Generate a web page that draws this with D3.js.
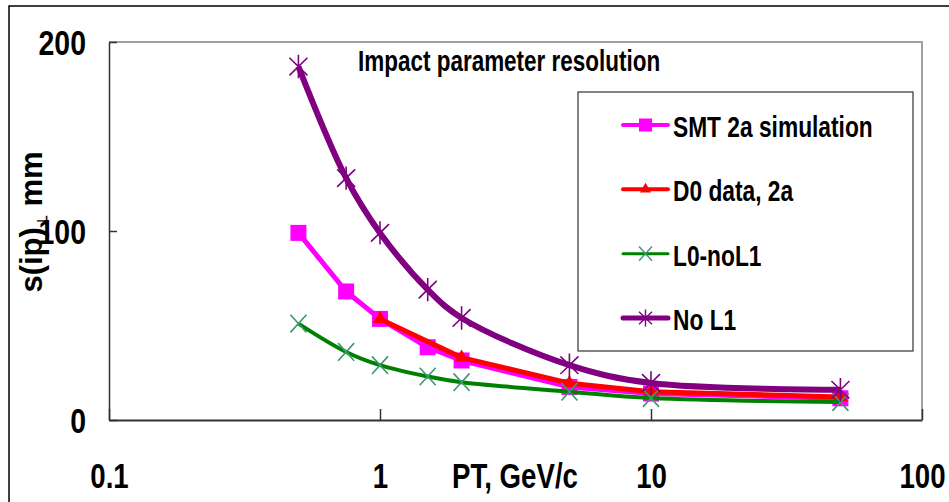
<!DOCTYPE html>
<html>
<head>
<meta charset="utf-8">
<script src="https://cdn.jsdelivr.net/npm/d3@7"></script>
<style>
    body { margin: 0; background: #fff; }
    text { font-family: "Liberation Sans", Arial, sans-serif; font-weight: bold; fill: #000; }
</style>
</head>
<body>
<div id="chart"></div>
<script>
const pt = [0.5, 0.75, 1, 1.5, 2, 5, 10, 50];
const ptD0 = [1, 2, 5, 10, 50];
const smtSim = [99, 68, 53.5, 38.5, 31.5, 17.5, 14, 11.5];
const d0Data = [53.5, 33, 19.5, 15, 12.2];
const l0NoL1 = [51, 36, 29, 23, 20, 15, 11.6, 9.5];
const noL1 = [187, 128, 99, 69, 54, 29, 19.6, 16];
const seriesNames = ["SMT 2a simulation", "D0 data, 2a", "L0-noL1", "No L1"];
const xTicks = [0.1, 1, 10, 100];
const yTicks = [0, 100, 200];

const width = 949,
    height = 502,
    margin = { top: 42, right: 27, bottom: 82, left: 109 };
const squeeze = 0.79; // text in the picture is narrow

// narrow a text node horizontally (scale about x = 0)
function narrow(sel, k) {
    k = k || squeeze;
    sel.each(function () {
        const t = d3.select(this);
        const x0 = +t.attr("x") || 0;
        t.attr("x", x0 / k).attr("transform", `scale(${k},1)`);
    });
}

const svg = d3
    .select("#chart")
    .append("svg")
    .attr("width", width)
    .attr("height", height);

const x = d3
    .scaleLog()
    .domain([0.1, 100])
    .range([margin.left, width - margin.right]);

const y = d3
    .scaleLinear()
    .domain([0, 200])
    .range([height - margin.bottom, margin.top]);

// outer frame
svg.append("rect")
    .attr("x", 9)
    .attr("y", 6)
    .attr("width", 980)
    .attr("height", 540)
    .attr("fill", "none")
    .attr("stroke", "#000")
    .attr("stroke-width", 1.5);

// plot area top / right border
svg.append("path")
    .attr("d", `M${x(0.1)},${y(200)}H${x(100)}V${y(0)}`)
    .attr("fill", "none")
    .attr("stroke", "#a0a0a0")
    .attr("stroke-width", 2);

// axes
const yAxis = svg
    .append("g")
    .attr("transform", `translate(${x(0.1)},0)`)
    .call(d3.axisLeft(y).tickValues(yTicks).tickSizeInner(-8).tickSizeOuter(0).tickPadding(23).tickFormat(d3.format("d")));
yAxis.select(".domain").attr("stroke", "#333").attr("stroke-width", 1.5);
yAxis.selectAll(".tick line").attr("stroke", "#333").attr("stroke-width", 1.5);
yAxis.selectAll("text")
    .attr("font-size", 36)
    .attr("font-family", null)
    .attr("dy", "0.36em")
    .call(narrow);

const xAxis = svg
    .append("g")
    .attr("transform", `translate(0,${y(0)})`)
    .call(d3.axisBottom(x).tickValues(xTicks).tickSizeInner(-11).tickSizeOuter(0).tickPadding(43).tickFormat(d3.format("~g")));
xAxis.select(".domain").attr("stroke", "#333").attr("stroke-width", 2);
xAxis.selectAll(".tick line").attr("stroke", "#333").attr("stroke-width", 1.5);
xAxis.selectAll("text")
    .attr("font-size", 35)
    .attr("font-family", null)
    .call(narrow);

svg.append("g")
    .attr("transform", "translate(452,488)")
    .append("text")
    .attr("font-size", 35)
    .text("PT, GeV/c")
    .call(narrow);

// y title
const yTitle = svg
    .append("text")
    .attr("transform", "translate(42,222) rotate(-90)")
    .attr("text-anchor", "middle")
    .attr("font-size", 31);
yTitle.append("tspan").text("s(ip)");
yTitle.append("tspan").attr("font-size", 14).attr("dy", 5).text("\u22a5");
yTitle.append("tspan").attr("dy", -5).text(" mm");

// chart title
svg.append("g")
    .attr("transform", "translate(358,71)")
    .append("text")
    .attr("font-size", 29)
    .text("Impact parameter resolution")
    .call(narrow, 0.775);

// marker shapes
function xMark(w, h) {
    return `M${-w / 2},${-h / 2}L${w / 2},${h / 2}M${-w / 2},${h / 2}L${w / 2},${-h / 2}`;
}
function starMark(w, h) {
    return xMark(w, h * 0.75) + `M0,${-h / 2}V${h / 2}`;
}

const series = [
    { name: seriesNames[0], xs: pt, ys: smtSim, color: "#ff00ff", lw: 5, curve: d3.curveLinear,
      mark: (s) => d3.symbol(d3.symbolSquare, s * s)(), size: 16, legSize: 13, fillMark: true },
    { name: seriesNames[1], xs: ptD0, ys: d0Data, color: "#ff0000", lw: 5, curve: d3.curveLinear,
      mark: (s) => d3.symbol(d3.symbolTriangle, s * s * 0.45)(), size: 14, legSize: 11, fillMark: true },
    { name: seriesNames[2], xs: pt, ys: l0NoL1, color: "#008000", lw: 4, curve: d3.curveCatmullRom,
      mark: (s) => xMark(s, s * 1.1), size: 16, legSize: 13, markColor: "#3a9a6e" },
    { name: seriesNames[3], xs: pt, ys: noL1, color: "#800080", lw: 6, curve: d3.curveCatmullRom,
      mark: (s) => starMark(s, s * 1.3), size: 18, legSize: 13, markColor: "#800080" }
];

series.forEach((s) => {
    const pts = s.xs.map((v, i) => [v, s.ys[i]]);
    const line = d3
        .line()
        .x((d) => x(d[0]))
        .y((d) => y(d[1]))
        .curve(s.curve);
    const g = svg.append("g");
    g.append("path")
        .attr("d", line(pts))
        .attr("fill", "none")
        .attr("stroke", s.color)
        .attr("stroke-width", s.lw)
        .attr("stroke-linejoin", "round");
    g.selectAll(".mk")
        .data(pts)
        .join("path")
        .attr("class", "mk")
        .attr("transform", (d) => `translate(${x(d[0])},${y(d[1])})`)
        .attr("d", s.mark(s.size))
        .attr("fill", s.fillMark ? s.color : "none")
        .attr("stroke", s.fillMark ? "none" : s.markColor)
        .attr("stroke-width", 1.6);
});

// legend
const legend = svg.append("g");
legend.append("rect")
    .attr("x", 578)
    .attr("y", 92)
    .attr("width", 335)
    .attr("height", 259)
    .attr("fill", "#fff")
    .attr("stroke", "#333")
    .attr("stroke-width", 1.2);

const legendY = d3.scalePoint().domain(seriesNames).range([125, 318]);

series.forEach((s) => {
    const ly = legendY(s.name);
    legend.append("line")
        .attr("x1", 623)
        .attr("x2", 668)
        .attr("y1", ly)
        .attr("y2", ly)
        .attr("stroke", s.color)
        .attr("stroke-width", Math.max(3, s.lw - 1))
        .attr("stroke-linecap", "round");
    legend.append("path")
        .attr("transform", `translate(645.5,${ly})`)
        .attr("d", s.mark(s.legSize))
        .attr("fill", s.fillMark ? s.color : "none")
        .attr("stroke", s.fillMark ? "none" : s.markColor)
        .attr("stroke-width", 1.4);
    legend.append("g")
        .attr("transform", `translate(673,${ly + 12})`)
        .append("text")
        .attr("font-size", 29)
        .text(s.name)
        .call(narrow, 0.785);
});
</script>
</body>
</html>
